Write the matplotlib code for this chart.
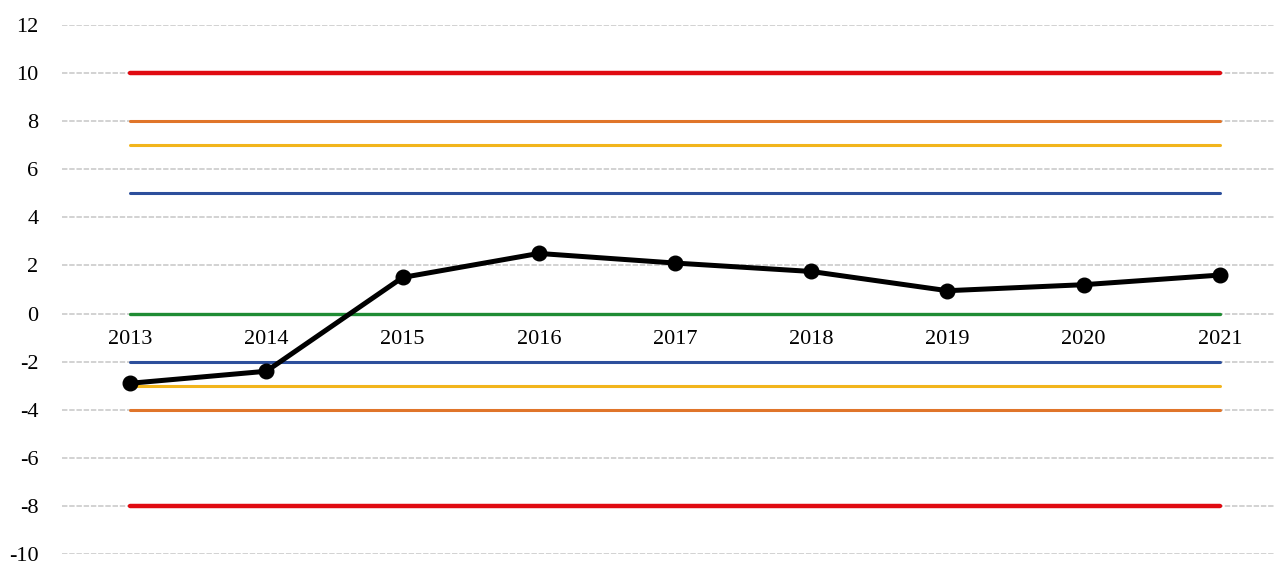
import matplotlib
matplotlib.use("Agg")
import matplotlib.pyplot as plt

years = ["2013", "2014", "2015", "2016", "2017", "2018", "2019", "2020", "2021"]
values = [-2.9, -2.4, 1.5, 2.5, 2.1, 1.75, 0.95, 1.2, 1.6]

# threshold bands: (level, colour)
levels = [10, 8, 7, 5, 0, -2, -3, -4, -8]
level_colors = ["#e00b12", "#e0752a", "#f2b51c", "#2d4f9c", "#1f8c34",
                "#2d4f9c", "#f2b51c", "#e0752a", "#e00b12"]
level_widths = [3.2, 2.2, 2.2, 2.2, 2.4, 2.2, 2.2, 2.2, 3.2]

yticks = list(range(-10, 13, 2))

plt.rcParams["font.family"] = ["Liberation Serif", "DejaVu Serif"]

fig = plt.figure(figsize=(12.75, 5.63), dpi=100)
ax = fig.add_axes([62 / 1275, 9 / 563, 1226 / 1275, 529 / 563])

x = list(range(len(years)))
for lv, c, w in zip(levels, level_colors, level_widths):
    ax.plot([x[0], x[-1]], [lv] * 2, color=c, lw=w, solid_capstyle="round", zorder=3)

ax.plot(x, values, color="black", lw=3.6, marker="o", markersize=10.5, zorder=5)

ax.set_xlim(-0.5, len(years) - 0.5)
ax.set_ylim(-10, 12)
ax.set_yticks(yticks)
ax.set_yticklabels([str(t) for t in yticks])
ax.yaxis.grid(True, color="#cfcfcf", lw=1.3, ls=(0, (3, 1)))
ax.set_axisbelow(True)

ax.set_xticks(x)
ax.set_xticklabels(years)
ax.spines["bottom"].set_position(("data", 0))
for s in ax.spines.values():
    s.set_visible(False)
ax.tick_params(axis="x", length=0, pad=12, labelsize=16)
ax.tick_params(axis="y", length=0, pad=17, labelsize=16)

fig.savefig("out.png", dpi=100)
